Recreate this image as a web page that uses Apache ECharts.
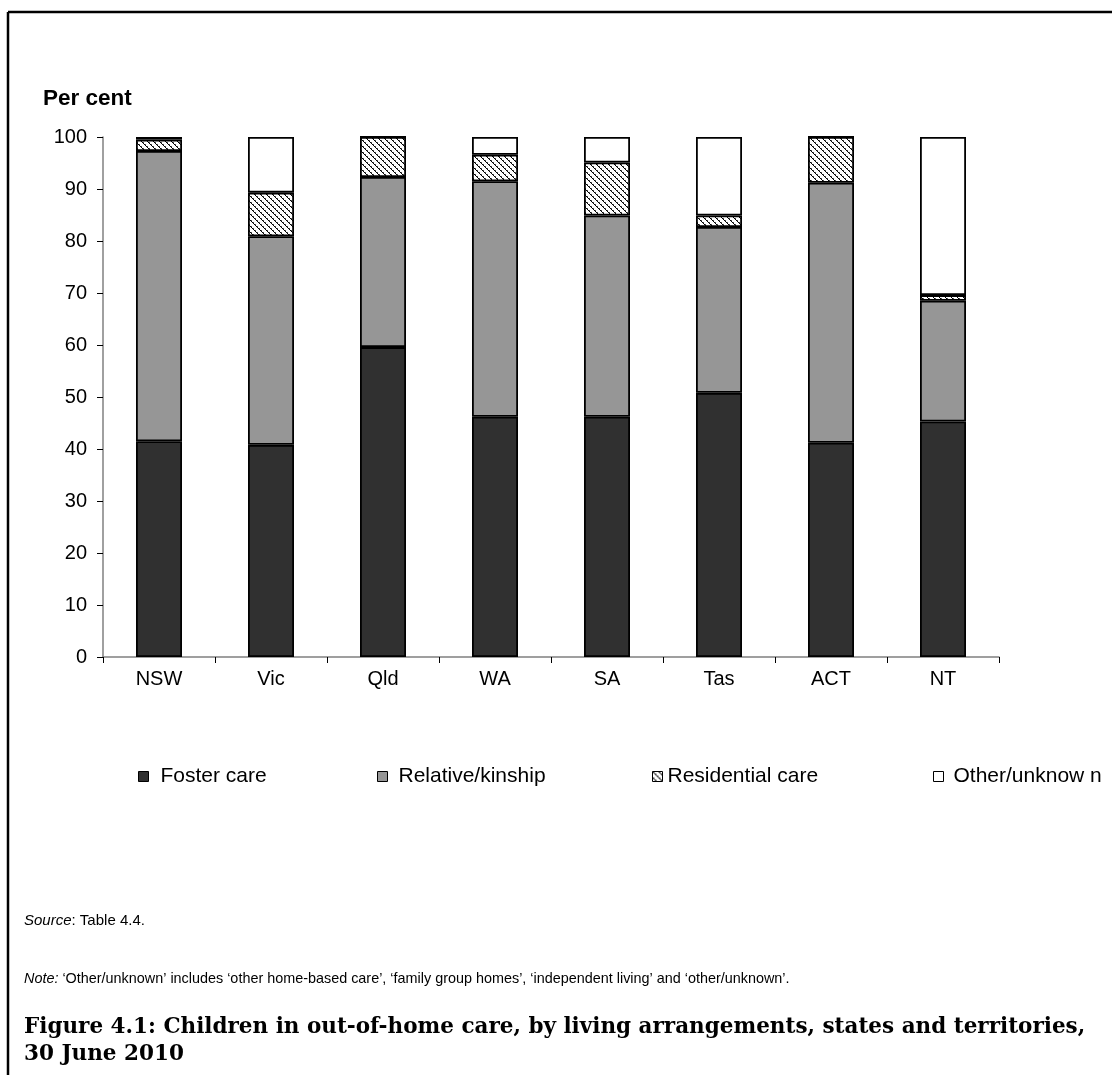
<!DOCTYPE html>
<html>
<head>
<meta charset="utf-8">
<style>
  html, body { margin: 0; padding: 0; background: #fff; }
  #chart { width: 1112px; height: 1075px; }
</style>
<script src="https://cdn.jsdelivr.net/npm/echarts@6/dist/echarts.min.js"></script>
</head>
<body>
<div id="chart"></div>
<script>
// Living arrangements of children in out-of-home care, per cent, by jurisdiction
const states = ['NSW', 'Vic', 'Qld', 'WA', 'SA', 'Tas', 'ACT', 'NT'];
const fosterCare = [41.5, 40.8, 59.6, 46.2, 46.2, 50.8, 41.2, 45.3];
const relativeKinship = [55.8, 40.1, 32.7, 45.3, 38.7, 31.9, 50.0, 23.2];
const residentialCare = [2.2, 8.4, 7.7, 5.1, 10.2, 2.2, 8.8, 1.1];
const otherUnknown = [0.5, 10.7, 0.0, 3.4, 4.9, 15.1, 0.0, 30.4];
const yTicks = { min: 0, max: 100, interval: 10 };

const seriesNames = ['Foster care', 'Relative/kinship', 'Residential care', 'Other/unknow n'];

// dotted diagonal hatch tile for residential care
function hatchPattern() {
  const n = 6;
  const c = document.createElement('canvas');
  c.width = n; c.height = n;
  const g = c.getContext('2d');
  g.fillStyle = '#ffffff';
  g.fillRect(0, 0, n, n);
  g.fillStyle = '#000000';
  for (let i = 0; i < n; i++) g.fillRect(i, i, 1, 1);
  g.fillStyle = '#555555';
  for (let i = 0; i < n; i += 2) g.fillRect((i + 1) % n, i, 1, 1);
  return { image: c, repeat: 'repeat' };
}

const fills = ['#303030', '#969696', hatchPattern(), '#ffffff'];
const values = [fosterCare, relativeKinship, residentialCare, otherUnknown];

const chart = echarts.init(document.getElementById('chart'), null, { renderer: 'canvas' });

const series = seriesNames.map((name, i) => ({
  name: name,
  type: 'bar',
  stack: 'total',
  barWidth: 46,
  data: values[i],
  itemStyle: { color: fills[i], borderColor: '#000', borderWidth: 1.8 },
  emphasis: { disabled: true }
}));

const textFont = 'Liberation Sans, Arial, sans-serif';

// one legend per entry so each sits at its own spot
const legendLefts = [138, 377, 652, 933];
const legendPads = [7, 6, 0, 5];
const legends = seriesNames.map((name, i) => ({
  data: [name],
  left: legendLefts[i],
  top: 766,
  padding: 0,
  icon: 'rect',
  itemWidth: 10,
  itemHeight: 10,
  itemStyle: { borderColor: '#000', borderWidth: 1 },
  textStyle: {
    fontFamily: textFont,
    fontSize: 21,
    color: '#000',
    padding: [0, 0, 0, legendPads[i]]
  },
  selectedMode: false
}));

chart.setOption({
  animation: false,
  backgroundColor: '#ffffff',
  grid: { left: 103, right: 113, top: 137, bottom: 418, containLabel: false },
  legend: legends,
  xAxis: {
    type: 'category',
    data: states,
    boundaryGap: true,
    axisLine: { lineStyle: { color: '#808080', width: 1.5 } },
    axisTick: { show: true, length: 6, interval: 0, lineStyle: { color: '#000', width: 1 } },
    axisLabel: { color: '#000', fontFamily: textFont, fontSize: 20, margin: 12, interval: 0 }
  },
  yAxis: {
    type: 'value',
    min: yTicks.min,
    max: yTicks.max,
    interval: yTicks.interval,
    splitLine: { show: false },
    axisLine: { show: true, lineStyle: { color: '#808080', width: 1.5 } },
    axisTick: { show: true, length: 6, lineStyle: { color: '#000', width: 1 } },
    axisLabel: { color: '#000', fontFamily: textFont, fontSize: 20, margin: 16 }
  },
  series: series,
  graphic: [
    // page frame
    { type: 'line', shape: { x1: 8, y1: 12, x2: 1112, y2: 12 }, style: { stroke: '#000', lineWidth: 2.5 } },
    { type: 'line', shape: { x1: 8, y1: 12, x2: 8, y2: 1075 }, style: { stroke: '#000', lineWidth: 2.5 } },
    {
      type: 'text', left: 43, top: 87,
      style: { text: 'Per cent', font: 'bold 22.5px ' + textFont, fill: '#000' }
    },
    {
      type: 'text', left: 24, top: 913,
      style: {
        text: '{i|Source}: Table 4.4.',
        rich: { i: { fontStyle: 'italic', fontFamily: textFont, fontSize: 15 } },
        font: '15px ' + textFont, fill: '#000'
      }
    },
    {
      type: 'text', left: 24, top: 972,
      style: {
        text: '{i|Note:} \u2018Other/unknown\u2019 includes \u2018other home-based care\u2019, \u2018family group homes\u2019, \u2018independent living\u2019 and \u2018other/unknown\u2019.',
        rich: { i: { fontStyle: 'italic', fontFamily: textFont, fontSize: 14.4 } },
        font: '14.4px ' + textFont, fill: '#000'
      }
    },
    {
      type: 'text', left: 24, top: 1014,
      style: {
        text: 'Figure 4.1: Children in out-of-home care, by living arrangements, states and territories,\n30 June 2010',
        font: 'bold 21.5px DejaVu Serif, serif', fill: '#000', lineHeight: 27
      }
    }
  ]
});
</script>
</body>
</html>
